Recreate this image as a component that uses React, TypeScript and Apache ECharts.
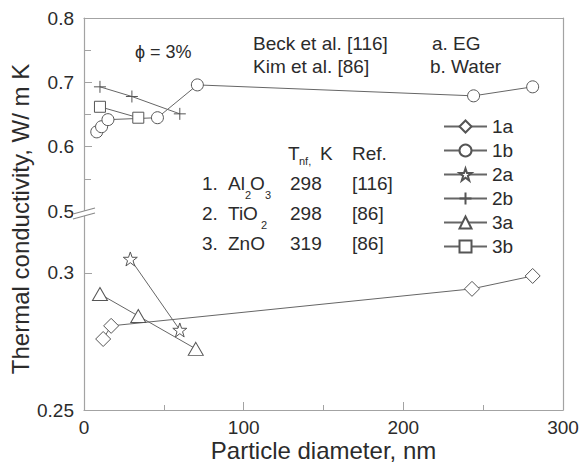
import React, { useEffect, useRef } from "react";
import * as echarts from "echarts";

// ---- data (x: particle diameter nm, y: thermal conductivity W/m K) ----
const x1a = [12, 17, 243, 281];
const y1a = [0.2759, 0.2807, 0.2942, 0.2989];
const x1b = [8, 11, 15, 46, 71, 244, 281];
const y1b = [0.623, 0.631, 0.642, 0.645, 0.696, 0.679, 0.693];
const x2a = [29, 60];
const y2a = [0.3051, 0.2792];
const x2b = [10, 30, 60];
const y2b = [0.693, 0.678, 0.651];
const x3a = [10, 34, 70];
const y3a = [0.2923, 0.2843, 0.2723];
const x3b = [10, 34];
const y3b = [0.662, 0.645];

const legendNames = ["1a", "1b", "2a", "2b", "3a", "3b"];
const xTickLabels = [0, 100, 200, 300];
const upperYTicks = [0.5, 0.6, 0.7, 0.8];
const lowerYTicks = [0.25, 0.3];

const zip = (xs: number[], ys: number[]) => xs.map((x, i) => [x, ys[i]]);

const STAR =
  "path://M12,0 L14.9,8.1 L23.4,8.1 L16.5,13.2 L19.1,21.3 L12,16.3 L4.9,21.3 L7.5,13.2 L0.6,8.1 L9.1,8.1 Z";
const PLUS = "path://M0,6 L12,6 M6,0 L6,12";

const FONT = "Liberation Sans, Arial, Helvetica, sans-serif";
const TXT = "#2b2b2b";
const AX = "#a3a3a3";
const LINE = "#666";

export default function App() {
  const ref = useRef<HTMLDivElement>(null);
  useEffect(() => {
    if (!ref.current) return;
    const chart = echarts.init(ref.current, undefined, { renderer: "svg" });

    const mk = (
      name: string,
      xs: number[],
      ys: number[],
      grid: number,
      symbol: string,
      size: number | number[]
    ) => ({
      name,
      type: "line",
      xAxisIndex: grid,
      yAxisIndex: grid === 0 ? 0 : 2,
      data: zip(xs, ys),
      symbol,
      symbolSize: size,
      showAllSymbol: true,
      clip: false,
      lineStyle: { color: LINE, width: 1 },
      itemStyle: { color: "#fff", borderColor: "#555", borderWidth: 1 },
      z: 3,
    });

    const t = (
      text: string,
      x: number,
      y: number,
      size = 19,
      align = "left"
    ) => ({
      type: "text",
      x,
      y,
      z: 10,
      style: {
        text,
        fontSize: size,
        fontFamily: FONT,
        fill: TXT,
        textAlign: align,
        textVerticalAlign: "middle",
      },
    });

    const option: any = {
      animation: false,
      backgroundColor: "#fff",
      textStyle: { fontFamily: FONT },
      grid: [
        { left: 84, right: 21, top: 18, height: 193 },
        { left: 84, right: 21, top: 211, height: 199 },
      ],
      xAxis: [
        {
          gridIndex: 0,
          type: "value",
          min: 0,
          max: 300,
          position: "top",
          axisLine: { show: true, lineStyle: { color: AX, width: 1.2 } },
          axisTick: { show: false },
          axisLabel: { show: false },
          splitLine: { show: false },
        },
        {
          gridIndex: 1,
          type: "value",
          min: 0,
          max: 300,
          interval: 100,
          position: "bottom",
          name: "Particle diameter, nm",
          nameLocation: "middle",
          nameGap: 28,
          nameTextStyle: { fontSize: 24, color: TXT, fontFamily: FONT },
          axisLine: { show: true, lineStyle: { color: AX, width: 1.2 } },
          axisTick: { show: true, inside: true, length: 8, lineStyle: { color: AX } },
          minorTick: { show: true, splitNumber: 2, length: 5, lineStyle: { color: AX } },
          axisLabel: {
            fontSize: 19,
            color: TXT,
            margin: 8,
            fontFamily: FONT,
            formatter: (v: number) =>
              xTickLabels.includes(Math.round(v)) ? String(Math.round(v)) : "",
          },
          splitLine: { show: false },
          minorSplitLine: { show: false },
        },
      ],
      yAxis: [
        {
          gridIndex: 0,
          type: "value",
          min: 0.5,
          max: 0.8,
          interval: 0.1,
          axisLine: { show: true, lineStyle: { color: AX, width: 1.2 } },
          axisTick: { show: true, inside: true, length: 8, lineStyle: { color: AX } },
          minorTick: { show: true, splitNumber: 2, length: 7, lineStyle: { color: AX } },
          axisLabel: {
            fontSize: 19,
            color: TXT,
            margin: 10,
            fontFamily: FONT,
            formatter: (v: number) =>
              upperYTicks.some((u) => Math.abs(u - v) < 1e-6) ? v.toFixed(1) : "",
          },
          splitLine: { show: false },
        },
        {
          gridIndex: 0,
          type: "value",
          position: "right",
          min: 0.5,
          max: 0.8,
          axisLine: { show: true, onZero: false, lineStyle: { color: AX, width: 1.2 } },
          axisTick: { show: false },
          axisLabel: { show: false },
          splitLine: { show: false },
        },
        {
          gridIndex: 1,
          type: "value",
          min: 0.25,
          max: 0.3226,
          interval: 0.05,
          axisLine: { show: true, lineStyle: { color: AX, width: 1.2 } },
          axisTick: {
            show: true,
            inside: true,
            length: 8,
            customValues: [0.3],
            lineStyle: { color: AX },
          },
          axisLabel: {
            fontSize: 19,
            color: TXT,
            margin: 10,
            fontFamily: FONT,
            customValues: lowerYTicks,
            formatter: (v: number) =>
              Math.abs(v - 0.25) < 1e-6 ? "0.25" : Math.abs(v - 0.3) < 1e-6 ? "0.3" : "",
          },
          splitLine: { show: false },
        },
        {
          gridIndex: 1,
          type: "value",
          position: "right",
          min: 0.25,
          max: 0.3226,
          axisLine: { show: true, onZero: false, lineStyle: { color: AX, width: 1.2 } },
          axisTick: { show: false },
          axisLabel: { show: false },
          splitLine: { show: false },
        },
      ],
      legend: {
        data: legendNames,
        orient: "vertical",
        left: 443,
        top: 117,
        padding: 0,
        itemWidth: 43,
        itemHeight: 15,
        itemGap: 5,
        textStyle: { fontSize: 19, color: TXT, fontFamily: FONT },
      },
      series: [
        mk("1a", x1a, y1a, 1, "diamond", 15),
        mk("1b", x1b, y1b, 0, "circle", 12),
        mk("2a", x2a, y2a, 1, STAR, 14),
        mk("2b", x2b, y2b, 0, PLUS, 12),
        mk("3a", x3a, y3a, 1, "triangle", [15, 13]),
        mk("3b", x3b, y3b, 0, "rect", 11),
      ],
      graphic: [
        // axis break marks
        {
          type: "polygon",
          z: 20,
          shape: { points: [[73, 214], [95, 208], [95, 213], [73, 219]] },
          style: { fill: "#fff" },
        },
        {
          type: "line",
          z: 21,
          shape: { x1: 73, y1: 214, x2: 95, y2: 208 },
          style: { stroke: "#8a8a8a", lineWidth: 1.2 },
        },
        {
          type: "line",
          z: 21,
          shape: { x1: 73, y1: 219, x2: 95, y2: 213 },
          style: { stroke: "#8a8a8a", lineWidth: 1.2 },
        },
        // y-axis title
        {
          type: "text",
          x: 20,
          y: 219,
          rotation: Math.PI / 2,
          style: {
            text: "Thermal conductivity, W/ m K",
            fontSize: 24,
            fontFamily: FONT,
            fill: TXT,
            textAlign: "center",
            textVerticalAlign: "middle",
          },
        },
        t("\u03d5 = 3%", 135, 52, 18),
        t("Beck et al. [116]", 253, 43),
        t("Kim et al. [86]", 253, 66),
        t("a. EG", 432, 43),
        t("b. Water", 430, 66),
        // table header
        t("T", 288, 153),
        t("nf,", 299, 161, 11),
        t("K", 320, 153),
        t("Ref.", 352, 153),
        // row 1
        t("1.", 202, 183),
        t("Al", 228, 183),
        t("2", 245, 195, 11),
        t("O", 250, 183),
        t("3", 265, 195, 11),
        t("298", 290, 183),
        t("[116]", 352, 183),
        // row 2
        t("2.", 202, 213),
        t("TiO", 228, 213),
        t("2", 261, 225, 11),
        t("298", 290, 213),
        t("[86]", 352, 213),
        // row 3
        t("3.", 202, 243),
        t("ZnO", 228, 243),
        t("319", 290, 243),
        t("[86]", 352, 243),
      ],
    };
    chart.setOption(option);
    return () => chart.dispose();
  }, []);
  return (
    <div
      ref={ref}
      style={{ position: "fixed", left: 0, top: 0, width: 584, height: 469 }}
    />
  );
}
